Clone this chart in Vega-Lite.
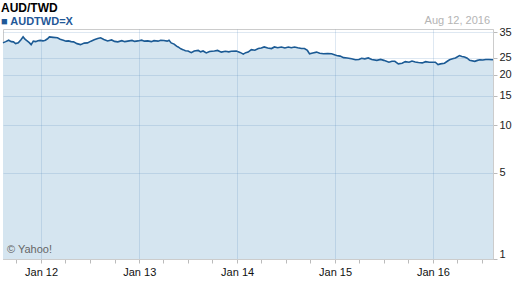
{
  "$schema": "https://vega.github.io/schema/vega-lite/v6.json",
  "width": 490,
  "height": 230,
  "autosize": {"type": "none"},
  "padding": {"left": 3, "top": 29, "right": 19, "bottom": 29},
  "background": "#ffffff",
  "config": {
    "view": {"stroke": "#cccccc", "strokeWidth": 1},
    "font": "Liberation Sans",
    "axis": {"labelOverlap": false}
  },
  "title": {
    "text": "AUD/TWD",
    "subtitle": "■ AUDTWD=X",
    "anchor": "start",
    "frame": "group",
    "offset": -13,
    "dx": -2,
    "font": "Liberation Sans",
    "fontSize": 12,
    "fontWeight": "bold",
    "color": "#000000",
    "subtitleFont": "Liberation Sans",
    "subtitleFontSize": 11,
    "subtitleFontWeight": "bold",
    "subtitleColor": "#1f5897",
    "subtitlePadding": 1
  },
  "datasets": {
    "fx": [
      {"date": "2011-08-12", "value": 30.5},
      {"date": "2011-08-22", "value": 31.0},
      {"date": "2011-09-02", "value": 31.6},
      {"date": "2011-09-12", "value": 31.0},
      {"date": "2011-09-20", "value": 30.9},
      {"date": "2011-09-28", "value": 30.2},
      {"date": "2011-10-08", "value": 30.5},
      {"date": "2011-10-18", "value": 31.8},
      {"date": "2011-10-26", "value": 33.0},
      {"date": "2011-11-03", "value": 31.9},
      {"date": "2011-11-10", "value": 31.3},
      {"date": "2011-11-18", "value": 30.6},
      {"date": "2011-11-25", "value": 29.8},
      {"date": "2011-12-03", "value": 31.2},
      {"date": "2011-12-12", "value": 31.0},
      {"date": "2011-12-20", "value": 31.4},
      {"date": "2011-12-29", "value": 31.5},
      {"date": "2012-01-08", "value": 31.3},
      {"date": "2012-01-17", "value": 31.6},
      {"date": "2012-01-25", "value": 32.2},
      {"date": "2012-02-01", "value": 33.0},
      {"date": "2012-02-15", "value": 32.8},
      {"date": "2012-03-02", "value": 32.6},
      {"date": "2012-03-12", "value": 32.0},
      {"date": "2012-03-24", "value": 31.6},
      {"date": "2012-04-03", "value": 31.2},
      {"date": "2012-04-12", "value": 31.3},
      {"date": "2012-04-22", "value": 31.0},
      {"date": "2012-05-01", "value": 30.9},
      {"date": "2012-05-14", "value": 30.2},
      {"date": "2012-05-27", "value": 29.8},
      {"date": "2012-06-10", "value": 30.4},
      {"date": "2012-06-22", "value": 30.5},
      {"date": "2012-07-05", "value": 31.2},
      {"date": "2012-07-17", "value": 31.8},
      {"date": "2012-07-30", "value": 32.3},
      {"date": "2012-08-10", "value": 32.6},
      {"date": "2012-08-22", "value": 31.9},
      {"date": "2012-09-05", "value": 31.3},
      {"date": "2012-09-20", "value": 31.7},
      {"date": "2012-10-01", "value": 31.1},
      {"date": "2012-10-13", "value": 30.9},
      {"date": "2012-10-28", "value": 31.4},
      {"date": "2012-11-08", "value": 31.0},
      {"date": "2012-11-19", "value": 31.2},
      {"date": "2012-12-05", "value": 31.5},
      {"date": "2012-12-15", "value": 31.1},
      {"date": "2012-12-27", "value": 31.3},
      {"date": "2013-01-10", "value": 31.6},
      {"date": "2013-01-20", "value": 31.2},
      {"date": "2013-02-02", "value": 31.3},
      {"date": "2013-02-15", "value": 31.0},
      {"date": "2013-02-25", "value": 31.4},
      {"date": "2013-03-12", "value": 31.2},
      {"date": "2013-03-22", "value": 31.6},
      {"date": "2013-04-03", "value": 31.5},
      {"date": "2013-04-15", "value": 31.2},
      {"date": "2013-04-22", "value": 31.6},
      {"date": "2013-04-30", "value": 30.5},
      {"date": "2013-05-11", "value": 30.0},
      {"date": "2013-05-20", "value": 29.2},
      {"date": "2013-05-26", "value": 28.9},
      {"date": "2013-06-05", "value": 28.2},
      {"date": "2013-06-13", "value": 27.9},
      {"date": "2013-06-22", "value": 27.5},
      {"date": "2013-07-02", "value": 27.4},
      {"date": "2013-07-14", "value": 26.8},
      {"date": "2013-07-25", "value": 27.4},
      {"date": "2013-08-09", "value": 27.6},
      {"date": "2013-08-18", "value": 27.1},
      {"date": "2013-08-27", "value": 27.4},
      {"date": "2013-09-08", "value": 26.7},
      {"date": "2013-09-20", "value": 27.2},
      {"date": "2013-10-08", "value": 27.4},
      {"date": "2013-10-20", "value": 27.6},
      {"date": "2013-11-03", "value": 27.0},
      {"date": "2013-11-18", "value": 27.3},
      {"date": "2013-12-01", "value": 27.1},
      {"date": "2013-12-10", "value": 27.3},
      {"date": "2013-12-29", "value": 27.4},
      {"date": "2014-01-12", "value": 26.9},
      {"date": "2014-01-24", "value": 26.3},
      {"date": "2014-02-02", "value": 26.8},
      {"date": "2014-02-11", "value": 27.0},
      {"date": "2014-02-23", "value": 27.9},
      {"date": "2014-03-08", "value": 27.7},
      {"date": "2014-03-21", "value": 28.3},
      {"date": "2014-04-01", "value": 28.5},
      {"date": "2014-04-12", "value": 28.9},
      {"date": "2014-04-25", "value": 28.5},
      {"date": "2014-05-09", "value": 28.3},
      {"date": "2014-05-20", "value": 28.9},
      {"date": "2014-06-01", "value": 28.6},
      {"date": "2014-06-15", "value": 28.9},
      {"date": "2014-06-28", "value": 28.5},
      {"date": "2014-07-11", "value": 28.9},
      {"date": "2014-07-22", "value": 28.6},
      {"date": "2014-08-03", "value": 28.9},
      {"date": "2014-08-15", "value": 28.6},
      {"date": "2014-08-29", "value": 28.3},
      {"date": "2014-09-09", "value": 28.3},
      {"date": "2014-09-20", "value": 27.6},
      {"date": "2014-09-28", "value": 26.4},
      {"date": "2014-10-10", "value": 26.7},
      {"date": "2014-10-24", "value": 27.0},
      {"date": "2014-11-05", "value": 26.6},
      {"date": "2014-11-19", "value": 26.4},
      {"date": "2014-12-05", "value": 26.5},
      {"date": "2014-12-19", "value": 26.4},
      {"date": "2015-01-07", "value": 25.8},
      {"date": "2015-01-20", "value": 25.6},
      {"date": "2015-02-02", "value": 25.1},
      {"date": "2015-02-15", "value": 25.0},
      {"date": "2015-03-04", "value": 24.7},
      {"date": "2015-03-18", "value": 24.4},
      {"date": "2015-03-31", "value": 24.5},
      {"date": "2015-04-10", "value": 24.9},
      {"date": "2015-04-22", "value": 24.7},
      {"date": "2015-05-05", "value": 25.0},
      {"date": "2015-05-18", "value": 24.5},
      {"date": "2015-06-06", "value": 24.2},
      {"date": "2015-06-20", "value": 24.5},
      {"date": "2015-07-02", "value": 24.2},
      {"date": "2015-07-21", "value": 23.6},
      {"date": "2015-08-01", "value": 23.9},
      {"date": "2015-08-12", "value": 23.9},
      {"date": "2015-08-25", "value": 23.1},
      {"date": "2015-09-08", "value": 23.3},
      {"date": "2015-09-20", "value": 23.8},
      {"date": "2015-10-04", "value": 23.6},
      {"date": "2015-10-15", "value": 24.0},
      {"date": "2015-10-27", "value": 23.7},
      {"date": "2015-11-08", "value": 23.5},
      {"date": "2015-11-22", "value": 23.4},
      {"date": "2015-12-05", "value": 23.8},
      {"date": "2015-12-18", "value": 23.6},
      {"date": "2016-01-10", "value": 23.6},
      {"date": "2016-01-20", "value": 22.9},
      {"date": "2016-01-29", "value": 23.1},
      {"date": "2016-02-13", "value": 23.3},
      {"date": "2016-02-25", "value": 24.0},
      {"date": "2016-03-03", "value": 24.4},
      {"date": "2016-03-14", "value": 24.7},
      {"date": "2016-03-25", "value": 25.0},
      {"date": "2016-04-09", "value": 25.8},
      {"date": "2016-04-18", "value": 25.5},
      {"date": "2016-04-28", "value": 25.3},
      {"date": "2016-05-08", "value": 24.9},
      {"date": "2016-05-17", "value": 24.2},
      {"date": "2016-06-05", "value": 23.9},
      {"date": "2016-06-15", "value": 24.2},
      {"date": "2016-06-24", "value": 24.4},
      {"date": "2016-07-05", "value": 24.3},
      {"date": "2016-07-16", "value": 24.5},
      {"date": "2016-07-28", "value": 24.5},
      {"date": "2016-08-12", "value": 24.4}
    ],
    "notes": [
      {"label": "Aug 12, 2016", "date": "2016-08-12", "value": 36.6},
      {"label": "© Yahoo!", "date": "2011-08-12", "value": 1}
    ]
  },
  "layer": [
    {
      "data": {"name": "fx"},
      "mark": {"type": "area", "color": "#d5e5f0", "opacity": 1},
      "encoding": {
        "x": {
          "field": "date",
          "type": "temporal",
          "scale": {"domain": [{"year": 2011, "month": 8, "date": 12}, {"year": 2016, "month": 8, "date": 12}], "nice": false},
          "axis": {
            "title": null,
            "tickCount": 100,
            "values": [
              {"year": 2011, "month": 10, "date": 1},
              {"year": 2012, "month": 1, "date": 1},
              {"year": 2012, "month": 4, "date": 1},
              {"year": 2012, "month": 7, "date": 1},
              {"year": 2012, "month": 10, "date": 1},
              {"year": 2013, "month": 1, "date": 1},
              {"year": 2013, "month": 4, "date": 1},
              {"year": 2013, "month": 7, "date": 1},
              {"year": 2013, "month": 10, "date": 1},
              {"year": 2014, "month": 1, "date": 1},
              {"year": 2014, "month": 4, "date": 1},
              {"year": 2014, "month": 7, "date": 1},
              {"year": 2014, "month": 10, "date": 1},
              {"year": 2015, "month": 1, "date": 1},
              {"year": 2015, "month": 4, "date": 1},
              {"year": 2015, "month": 7, "date": 1},
              {"year": 2015, "month": 10, "date": 1},
              {"year": 2016, "month": 1, "date": 1},
              {"year": 2016, "month": 4, "date": 1},
              {"year": 2016, "month": 7, "date": 1}
            ],
            "labelExpr": "month(datum.value) == 0 ? timeFormat(datum.value, '%b %y') : ''",
            "labelOverlap": false,
            "labelFont": "Liberation Sans",
            "labelFontSize": 11,
            "labelColor": "#111111",
            "labelPadding": 3,
            "tickSize": 4,
            "tickColor": "#bbbbbb",
            "domainColor": "#cccccc",
            "grid": true,
            "gridColor": "#4a7fb5",
            "gridOpacity": {"condition": {"test": "month(datum.value) == 0", "value": 0.18}, "value": 0},
            "zindex": 1
          }
        },
        "y": {
          "field": "value",
          "type": "quantitative",
          "scale": {"type": "symlog", "constant": 1, "domain": [1, 36.6], "nice": false, "zero": false},
          "axis": {
            "orient": "right",
            "title": null,
            "tickCount": 100,
            "values": [1, 5, 10, 15, 20, 25, 35],
            "format": "d",
            "labelOverlap": false,
            "labelFont": "Liberation Sans",
            "labelFontSize": 11,
            "labelColor": "#222222",
            "labelPadding": 2,
            "labelFlush": true,
            "tickSize": 4,
            "tickColor": "#bbbbbb",
            "domainColor": "#cccccc",
            "grid": true,
            "gridColor": "#4a7fb5",
            "gridOpacity": 0.18,
            "zindex": 1
          }
        },
        "y2": {"datum": 1}
      }
    },
    {
      "data": {"name": "fx"},
      "mark": {"type": "line", "color": "#1b5a94", "strokeWidth": 1.6},
      "encoding": {
        "x": {"field": "date", "type": "temporal"},
        "y": {"field": "value", "type": "quantitative"}
      }
    },
    {
      "data": {"name": "notes"},
      "transform": [{"filter": "datum.label == 'Aug 12, 2016'"}],
      "mark": {"type": "text", "align": "right", "baseline": "alphabetic", "dx": -3, "dy": -5, "fontSize": 11, "font": "Liberation Sans", "color": "#b4b4b4"},
      "encoding": {
        "x": {"field": "date", "type": "temporal"},
        "y": {"field": "value", "type": "quantitative"},
        "text": {"field": "label"}
      }
    },
    {
      "data": {"name": "notes"},
      "transform": [{"filter": "datum.label == '© Yahoo!'"}],
      "mark": {"type": "text", "align": "left", "baseline": "alphabetic", "dx": 4, "dy": -6, "fontSize": 11, "font": "Liberation Sans", "color": "#666666"},
      "encoding": {
        "x": {"field": "date", "type": "temporal"},
        "y": {"field": "value", "type": "quantitative"},
        "text": {"field": "label"}
      }
    }
  ]
}
